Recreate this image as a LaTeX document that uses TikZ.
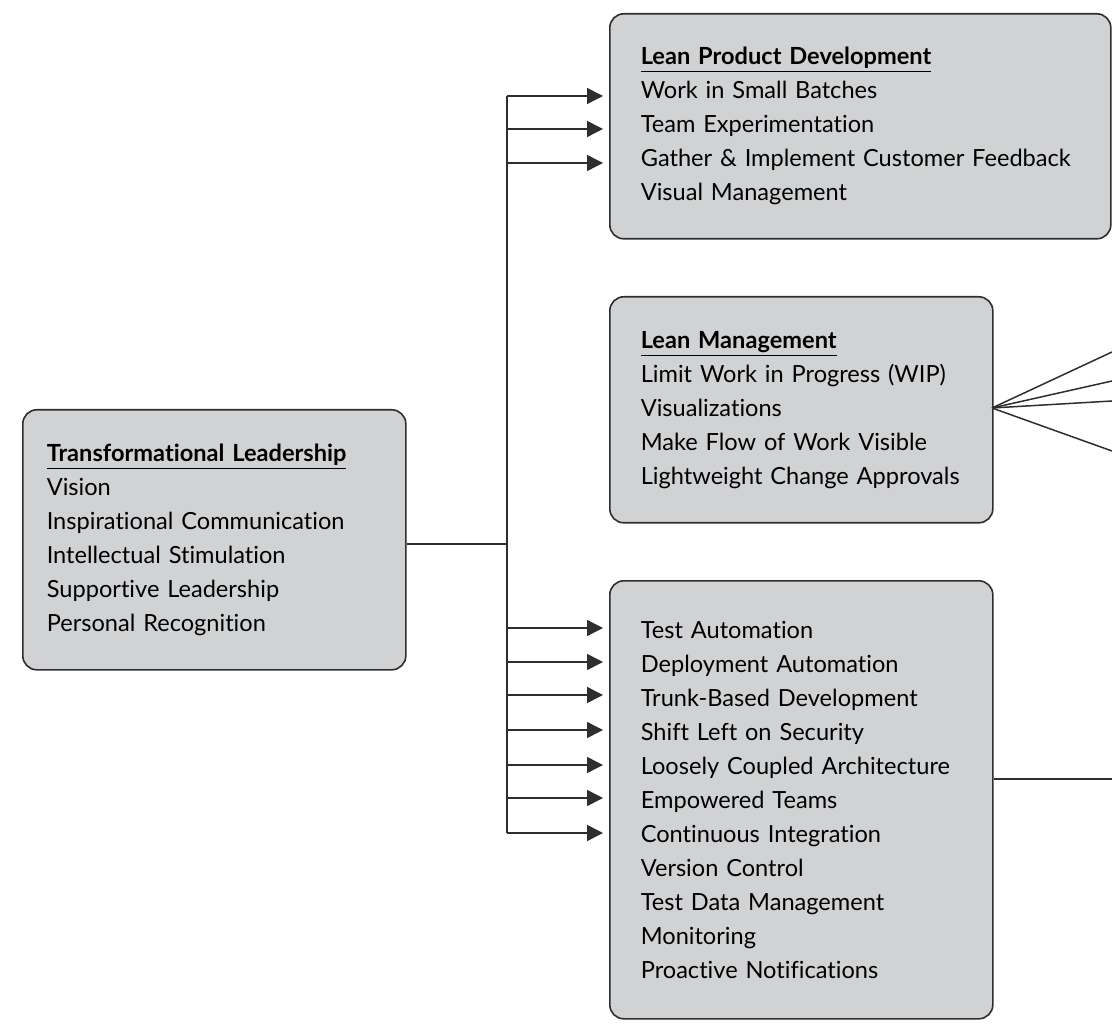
\documentclass[tikz,border=0pt]{standalone}
\usepackage{fontspec}
\setmainfont{Lato}[Ligatures=CommonOff]
\usetikzlibrary{arrows.meta,positioning}
\definecolor{boxgray}{HTML}{D1D2D4}
\definecolor{edgegray}{HTML}{2E2E2E}
\tikzset{
  block/.style={draw=edgegray,line width=0.8pt,fill=boxgray,rounded corners=7pt,
    align=left,anchor=north west,inner ysep=0pt,font=\fontsize{11.8}{17}\selectfont},
  link/.style={draw=edgegray,line width=0.75pt},
  feed/.style={link,shorten >=3pt,-{Triangle[length=8pt,width=8pt]}}
}
\newcommand{\boxhead}[1]{\underline{\textbf{#1}}}

\begin{document}
\begin{tikzpicture}[x=0.5pt,y=-0.5pt]
\useasboundingbox (0,0) rectangle (1112,1036);
\node[block,inner xsep=12pt,text width=167.5pt,minimum width=191.5pt,minimum height=130pt] (tl) at (22,409)
  {\boxhead{Transformational Leadership}\\ Vision\\ Inspirational Communication\\ Intellectual Stimulation\\ Supportive Leadership\\ Personal Recognition};
\node[block,inner xsep=15.5pt,text width=219.5pt,minimum width=250.5pt,minimum height=112.5pt] (lpd) at (609,13)
  {\boxhead{Lean Product Development}\\ Work in Small Batches\\ Team Experimentation\\ Gather \& Implement Customer Feedback\\ Visual Management};
\node[block,inner xsep=15.5pt,text width=160.5pt,minimum width=191.5pt,minimum height=113pt] (lm) at (609,296)
  {\boxhead{Lean Management}\\ Limit Work in Progress (WIP)\\ Visualizations\\ Make Flow of Work Visible\\ Lightweight Change Approvals};
\node[block,inner xsep=15.5pt,text width=160.5pt,minimum width=191.5pt,minimum height=219pt] (cd) at (609,580)
  {Test Automation\\ Deployment Automation\\ Trunk-Based Development\\ Shift Left on Security\\ Loosely Coupled Architecture\\ Empowered Teams\\ Continuous Integration\\ Version Control\\ Test Data Management\\ Monitoring\\ Proactive Notifications};

% spine from leadership box
\coordinate (hub) at (507,544);
\coordinate (spinetop) at (507,96);
\coordinate (spinebot) at (507,833);
\draw[link] (tl.east |- hub) -- (hub);
\draw[link] (spinetop) -- (spinebot);
\foreach \y in {96,129,163}{
  \coordinate (s) at (507,\y);
  \draw[feed] (s) -- (s -| lpd.west);
}
\foreach \y in {628,662,695,730,765,798,833}{
  \coordinate (s) at (507,\y);
  \draw[feed] (s) -- (s -| cd.west);
}

% lines leaving to the right
\coordinate (fan) at (992,408);
\foreach \y in {352,381,401,451}{
  \coordinate (r) at (1112,\y);
  \draw[link] (fan) -- (r);
}
\coordinate (cdout) at (1112,779);
\draw[link] (cd.east |- cdout) -- (cdout);
\end{tikzpicture}
\end{document}
